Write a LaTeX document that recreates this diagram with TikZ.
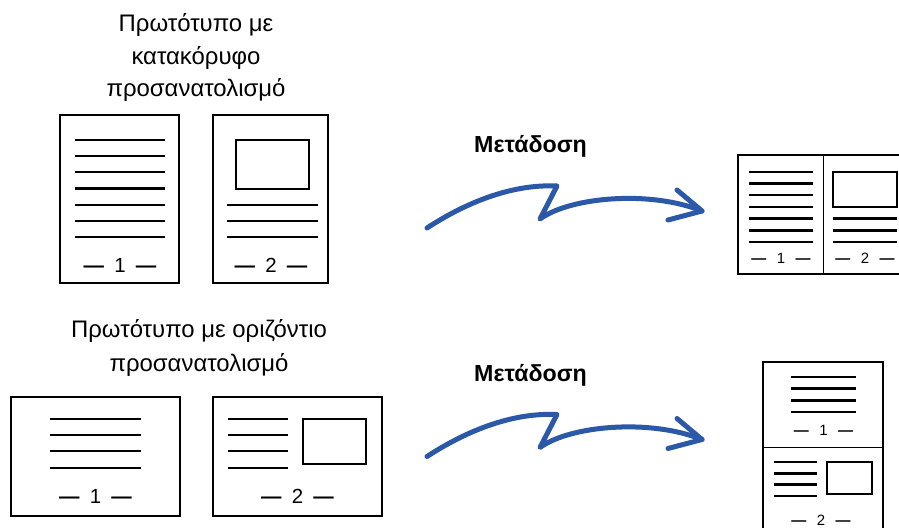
\documentclass[tikz,border=0pt]{standalone}
\usepackage{fontspec}
\setmainfont{Liberation Sans}
\definecolor{arrowblue}{RGB}{43,89,168}
\newcommand\pgnum[2]{{\bfseries —}\hspace{#1}#2\hspace{#1}{\bfseries —}}
\tikzset{
  pg/.style={draw=black,line width=2bp},
  tl/.style={draw=black,line width=2.8bp},
  rtl/.style={draw=black,line width=2.4bp},
  imgbox/.style={draw=black,line width=2bp},
  divline/.style={draw=black,line width=1bp},
  caption/.style={align=center,inner sep=0pt},
  sendlabel/.style={font=\bfseries\fontsize{23.3}{27}\selectfont,inner sep=0pt,anchor=base},
  pnum/.style={font=\fontsize{20.5}{24}\selectfont,inner sep=0pt,anchor=base},
  rnum/.style={font=\fontsize{15}{18}\selectfont,inner sep=0pt,anchor=base},
  send/.style={draw=arrowblue,line width=5bp,line cap=round,line join=round}
}
\begin{document}
\begin{tikzpicture}[x=1bp,y=-1bp]
\useasboundingbox (0,0) rectangle (899,528);
\fill[white] (0,0) rectangle (899,528);
\clip (0,0) rectangle (899,528);

% ---------- captions ----------
\node[caption,font=\fontsize{24}{33}\selectfont,anchor=north] (captop) at (196,13)
  {Πρωτότυπο με\\κατακόρυφο\\προσανατολισμό};
\node[caption,font=\fontsize{24}{34}\selectfont,anchor=north] (capbot) at (199,319.5)
  {Πρωτότυπο με οριζόντιο\\προσανατολισμό};

% ---------- top-left portrait pages ----------
\draw[pg] (60,115) rectangle (179,283);
\foreach \y in {140,156,172,188.5,205,221,237} \draw[tl] (75,\y) -- (165,\y);
\node[pnum] (n1a) at (120,273) {\pgnum{0.5em}{1}};

\draw[pg] (213,115) rectangle (328,283);
\draw[imgbox] (236,140) rectangle (309,189);
\foreach \y in {205,221,237} \draw[tl] (227,\y) -- (318,\y);
\node[pnum] (n2a) at (271,273) {\pgnum{0.5em}{2}};

% ---------- bottom-left landscape pages ----------
\draw[pg] (11,397) rectangle (180,516);
\foreach \y in {419,435,451,468} \draw[tl] (50,\y) -- (141,\y);
\node[pnum] (n1b) at (95.5,503) {\pgnum{0.5em}{1}};

\draw[pg] (213,397) rectangle (382,516);
\foreach \y in {419,435,451,468} \draw[tl] (228,\y) -- (288,\y);
\draw[imgbox] (303,419) rectangle (366,464);
\node[pnum] (n2b) at (297.5,503) {\pgnum{0.5em}{2}};

% ---------- top-right result ----------
\draw[pg,line width=2.2bp] (738,155) rectangle (910,274);
\draw[divline] (823,155) -- (823,274);
\foreach \y in {172,183.5,195,207,218.5,230.5,242} \draw[rtl] (749,\y) -- (813,\y);
\node[rnum] (r1a) at (781,264) {\pgnum{0.7em}{1}};
\draw[imgbox] (833,172) rectangle (897,207);
\foreach \y in {218.5,230.5,242} \draw[rtl] (833,\y) -- (897,\y);
\node[rnum] (r2a) at (865,264) {\pgnum{0.7em}{2}};

% ---------- bottom-right result ----------
\draw[pg,line width=2.2bp] (763,362) rectangle (883,545);
\draw[divline] (763,447) -- (883,447);
\foreach \y in {377,388.5,400.5,412} \draw[rtl] (791,\y) -- (856,\y);
\node[rnum] (r1b) at (823.5,435) {\pgnum{0.7em}{1}};
\foreach \y in {462,473.5,484.5,496} \draw[rtl] (774,\y) -- (817,\y);
\draw[imgbox] (827,462) rectangle (872,494);
\node[rnum] (r2b) at (821,525) {\pgnum{0.7em}{2}};

% ---------- transmission arrows ----------
\foreach \dy/\nm in {0/top,228.5/bot}{
  \begin{scope}[yshift=-\dy bp]
    \node[sendlabel] (lbl\nm) at (530.5,153) {Μετάδοση};
    \coordinate (s0\nm) at (427,228);
    \coordinate (s1\nm) at (557,186);
    \coordinate (s2\nm) at (540,219);
    \coordinate (s3\nm) at (702,211);
    \coordinate (h1\nm) at (677,190);
    \coordinate (h2\nm) at (668,220);
    \draw[send] (s0\nm) .. controls (470,200) and (515,184) .. (s1\nm)
       -- (s2\nm) .. controls (570,197) and (650,190) .. (s3\nm);
    \draw[send] (h1\nm) -- (s3\nm) -- (h2\nm);
  \end{scope}
}
\end{tikzpicture}
\end{document}
